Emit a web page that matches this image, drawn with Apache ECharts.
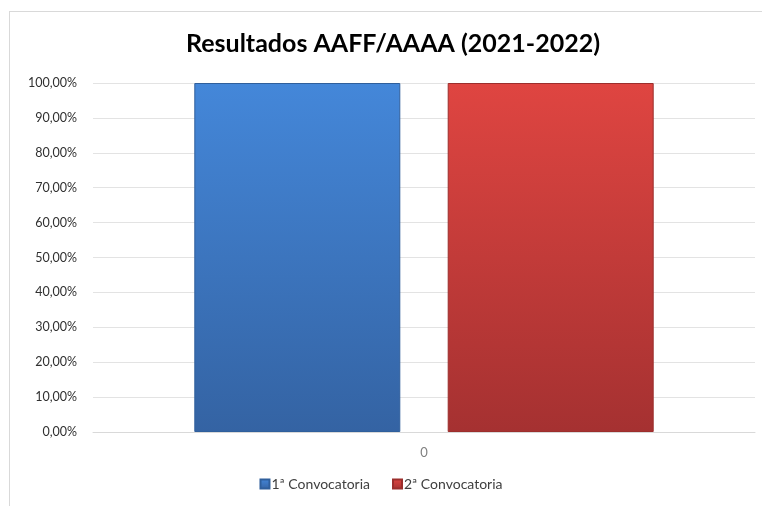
<!DOCTYPE html>
<html><head><meta charset="utf-8">
<script src="https://cdn.jsdelivr.net/npm/echarts@6/dist/echarts.min.js"></script>
<style>
html,body{margin:0;padding:0;background:#fff;}
#frame{position:absolute;left:9px;top:11px;width:800px;height:520px;border:1px solid #d9d9d9;box-sizing:border-box;}
#c{position:absolute;left:0;top:0;width:762px;height:506px;}
</style></head>
<body>
<div id="frame"></div>
<div id="c"></div>
<script>
const categories = ['0'];
const seriesNames = ['1ª Convocatoria', '2ª Convocatoria'];
const serie1 = [1.0];
const serie2 = [1.0];
const yTicks = [0, 0.1, 0.2, 0.3, 0.4, 0.5, 0.6, 0.7, 0.8, 0.9, 1.0];

const chart = echarts.init(document.getElementById('c'), null, {renderer: 'canvas'});
const fmt = v => (v * 100).toFixed(2).replace('.', ',') + '%';
const grad = (top, bottom) => new echarts.graphic.LinearGradient(0, 0, 0, 1, [
  {offset: 0, color: top}, {offset: 1, color: bottom}
]);
chart.setOption({
  backgroundColor: 'transparent',
  animation: false,
  title: {
    text: 'Resultados AAFF/AAAA (2021-2022)',
    left: 388, top: 26, textAlign: 'center',
    textStyle: {fontFamily: 'Lato', fontWeight: 'bold', fontSize: 25, color: '#000'}
  },
  legend: {
    data: seriesNames,
    bottom: 10, left: 'center',
    itemWidth: 9, itemHeight: 9, itemGap: 22,
    icon: 'rect',
    textStyle: {fontFamily: 'Lato', fontSize: 14, color: '#404040', padding: [0, 0, 0, -3]}
  },
  grid: {left: 93, right: 7, top: 83, bottom: 74, containLabel: false},
  xAxis: {
    type: 'category', data: categories,
    axisLine: {show: true, lineStyle: {color: '#d9d9d9'}},
    axisTick: {show: false},
    axisLabel: {color: '#808080', fontFamily: 'Lato', fontSize: 13, margin: 14}
  },
  yAxis: {
    type: 'value', min: 0, max: 1, interval: 0.1,
    axisLine: {show: false}, axisTick: {show: false},
    splitLine: {lineStyle: {color: '#e3e3e3', width: 1}},
    axisLabel: {formatter: fmt, color: '#303030', fontFamily: 'Lato', fontSize: 12.5, margin: 16}
  },
  series: [
    {name: seriesNames[0], type: 'bar', data: serie1, barWidth: 206, barGap: '23%',
     itemStyle: {color: grad('#4487d9', '#3463a3'), borderColor: '#2f5f9c', borderWidth: 1}},
    {name: seriesNames[1], type: 'bar', data: serie2, barWidth: 206,
     itemStyle: {color: grad('#df4541', '#a53131'), borderColor: '#9c2e2c', borderWidth: 1}}
  ]
});
</script>
</body></html>
